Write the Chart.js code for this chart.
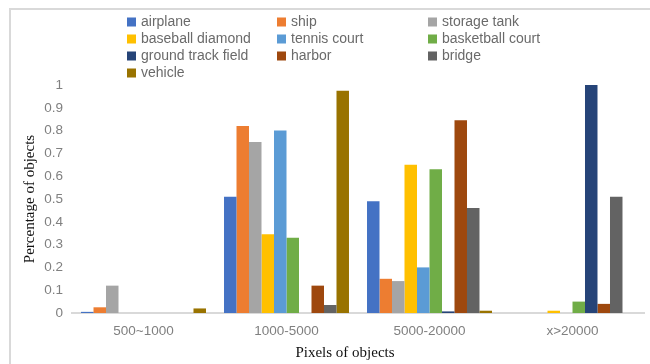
<!DOCTYPE html>
<html>
<head>
<meta charset="utf-8">
<script src="https://cdn.jsdelivr.net/npm/chart.js@4/dist/chart.umd.min.js"></script>
<style>
  html, body { margin: 0; padding: 0; background: #ffffff; }
  #wrap { width: 650px; height: 364px; }
</style>
</head>
<body>
<div id="wrap"><canvas id="chart" width="650" height="364"></canvas></div>
<script>
// Share of objects per size bucket, one series per object class
const categories = ['500~1000', '1000-5000', '5000-20000', 'x>20000'];
const seriesNames = ['airplane', 'ship', 'storage tank', 'baseball diamond', 'tennis court',
  'basketball court', 'ground track field', 'harbor', 'bridge', 'vehicle'];

const airplane         = [0.005, 0.51,  0.49,  0];
const ship             = [0.025, 0.82,  0.15,  0];
const storageTank      = [0.12,  0.75,  0.14,  0];
const baseballDiamond  = [0,     0.345, 0.65,  0.01];
const tennisCourt      = [0,     0.80,  0.20,  0];
const basketballCourt  = [0,     0.33,  0.63,  0.05];
const groundTrackField = [0,     0,     0.007, 1.0];
const harbor           = [0,     0.12,  0.845, 0.04];
const bridge           = [0,     0.035, 0.46,  0.51];
const vehicle          = [0.02,  0.975, 0.01,  0];

const yTicks = { min: 0, max: 1, step: 0.1 };

const seriesValues = [airplane, ship, storageTank, baseballDiamond, tennisCourt,
  basketballCourt, groundTrackField, harbor, bridge, vehicle];
const palette = ['#4472C4', '#ED7D31', '#A5A5A5', '#FFC000', '#5B9BD5',
  '#70AD47', '#264478', '#9E480E', '#636363', '#997300'];

const TICK_FONT = { family: '"Liberation Sans", Arial, sans-serif', size: 13.5 };

// Frame, three-column legend and serif axis titles
const decorations = {
  id: 'decorations',
  beforeDraw(chart) {
    const ctx = chart.ctx;
    ctx.save();
    ctx.fillStyle = '#ffffff';
    ctx.fillRect(0, 0, chart.width, chart.height);
    ctx.strokeStyle = '#d9d9d9';
    ctx.lineWidth = 2;
    ctx.beginPath();
    ctx.moveTo(10, chart.height);
    ctx.lineTo(10, 9);
    ctx.lineTo(chart.width, 9);
    ctx.stroke();
    ctx.restore();
  },
  afterDraw(chart) {
    const ctx = chart.ctx;
    const area = chart.chartArea;
    ctx.save();
    // legend grid
    const colX = [127, 277, 428];
    const rowY = [22, 39, 56, 73];
    ctx.font = '14px "Liberation Sans", Arial, sans-serif';
    ctx.textBaseline = 'middle';
    ctx.textAlign = 'left';
    chart.data.datasets.forEach((ds, i) => {
      const x = colX[i % 3];
      const y = rowY[Math.floor(i / 3)];
      ctx.fillStyle = ds.backgroundColor;
      ctx.fillRect(x, y - 4.5, 9, 9);
      ctx.fillStyle = '#6a6a6a';
      ctx.fillText(ds.label, x + 14, y);
    });
    // axis titles
    ctx.fillStyle = '#111111';
    ctx.font = '15px "Liberation Serif", "Times New Roman", serif';
    ctx.textAlign = 'center';
    ctx.fillText('Pixels of objects', 345, 353);
    ctx.translate(30, (area.top + area.bottom) / 2);
    ctx.rotate(-Math.PI / 2);
    ctx.fillText('Percentage of objects', 0, 0);
    ctx.restore();
  }
};

new Chart(document.getElementById('chart'), {
  type: 'bar',
  data: {
    labels: categories,
    datasets: seriesNames.map((name, i) => ({
      label: name,
      data: seriesValues[i],
      backgroundColor: palette[i],
      borderWidth: 0,
      barPercentage: 1.0,
      categoryPercentage: 0.874
    }))
  },
  options: {
    responsive: false,
    animation: false,
    devicePixelRatio: 1,
    layout: { padding: { top: 85, right: 6, left: 0, bottom: 0 } },
    plugins: {
      legend: { display: false },
      tooltip: { enabled: false }
    },
    scales: {
      x: {
        grid: { display: false, drawTicks: false },
        border: { display: true, color: '#d9d9d9', width: 2 },
        ticks: { color: '#808080', font: TICK_FONT, padding: 10, maxRotation: 0 },
        afterFit(scale) { scale.height = 51; }
      },
      y: {
        min: yTicks.min,
        max: yTicks.max,
        grid: { display: false, drawTicks: false },
        border: { display: false },
        ticks: {
          stepSize: yTicks.step,
          color: '#808080',
          font: TICK_FONT,
          padding: 9,
          callback: (v) => String(Math.round(v * 10) / 10)
        },
        afterFit(scale) { scale.width = 72; }
      }
    }
  },
  plugins: [decorations]
});
</script>
</body>
</html>
